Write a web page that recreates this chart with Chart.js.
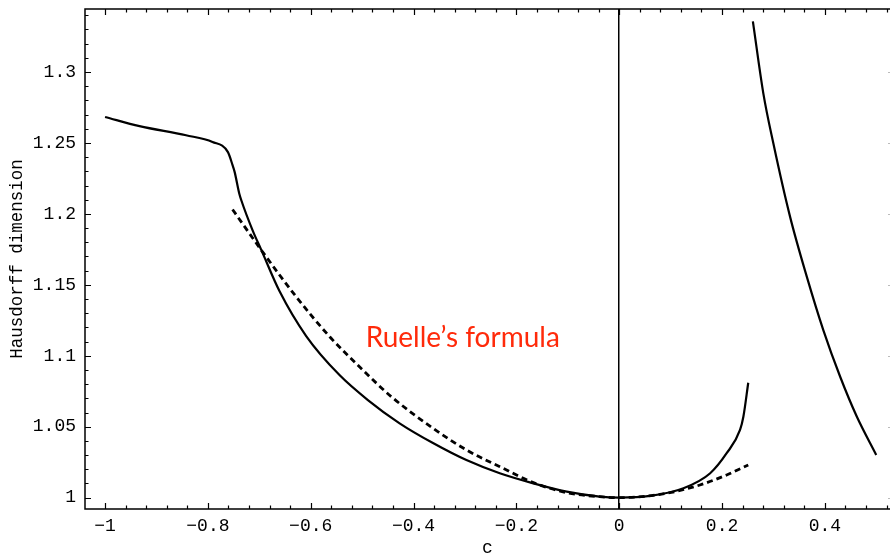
<!DOCTYPE html>
<html>
<head>
<meta charset="utf-8">
<script src="https://cdn.jsdelivr.net/npm/chart.js@4.4.1/dist/chart.umd.min.js"></script>
<style>
  body { margin: 0; background: #fff; }
  #box { width: 890px; height: 557px; position: relative; }
</style>
</head>
<body>
<div id="box"><canvas id="hausdorff"></canvas></div>
<script>
// tick labels
const xTicks = [-1, -0.8, -0.6, -0.4, -0.2, 0, 0.2, 0.4];
const yTicks = [1, 1.05, 1.1, 1.15, 1.2, 1.25, 1.3];

// measured dimension, main branch (c from -1 to 1/4)
const mainC   = [-1.0, -0.933, -0.8425, -0.791, -0.761, -0.752, -0.748, -0.739, -0.735, -0.7128, -0.6964, -0.6608, -0.6088, -0.544, -0.4888, -0.4271, -0.3622, -0.2972, -0.2323, -0.167, -0.102, -0.038, 0, 0.06, 0.125, 0.177, 0.209, 0.235, 0.2415, 0.251];
const mainDim = [1.2683, 1.2618, 1.2554, 1.2507, 1.2435, 1.2343, 1.2296, 1.2144, 1.2096, 1.1882, 1.1748, 1.1456, 1.1139, 1.0864, 1.0688, 1.0524, 1.0385, 1.0265, 1.0172, 1.0101, 1.0042, 1.0007, 1.0, 1.0012, 1.0066, 1.0172, 1.0313, 1.0477, 1.057, 1.081];

// branch right of 1/4
const rightC   = [0.26, 0.2804, 0.2999, 0.3324, 0.365, 0.397, 0.4298, 0.4623, 0.4999];
const rightDim = [1.3357, 1.2848, 1.2496, 1.1979, 1.1556, 1.1181, 1.0852, 1.057, 1.0301];

// Ruelle's formula (dashed)
const ruelleC   = [-0.752, -0.696, -0.628, -0.563, -0.4985, -0.443, -0.362, -0.297, -0.232, -0.167, -0.102, -0.038, 0, 0.092, 0.157, 0.209, 0.251];
const ruelleDim = [1.2031, 1.1744, 1.1415, 1.1134, 1.0899, 1.0711, 1.0489, 1.0336, 1.0218, 1.0106, 1.0035, 1.0007, 1.0, 1.0031, 1.0089, 1.016, 1.023];

const labelText = 'Ruelle\u2019s formula';
const labelAt = { c: -0.493, dim: 1.1063 };

function pts(xs, ys) {
    return xs.map(function(x, i) { return { x: x, y: ys[i] }; });
}

function fmt(v) {
    let s = String(parseFloat(v.toFixed(2)));
    return s.replace('-', '\u2212');
}

// frame, inward ticks and the text label
const framePlugin = {
    id: 'frame',
    afterDraw: function(chart) {
        const ctx = chart.ctx;
        const a = chart.chartArea;
        const xs = chart.scales.x, ys = chart.scales.y;
        ctx.save();
        ctx.strokeStyle = '#000';
        ctx.lineWidth = 1.5;
        ctx.beginPath();
        ctx.moveTo(a.right, a.top);
        ctx.lineTo(a.left, a.top);
        ctx.lineTo(a.left, a.bottom);
        ctx.lineTo(a.right, a.bottom);
        ctx.stroke();

        ctx.lineWidth = 1.2;
        ctx.beginPath();
        // x minor + major
        for (let k = Math.ceil(xs.min / 0.04 - 1e-6); k <= Math.floor(xs.max / 0.04 + 1e-6); k++) {
            const v = k * 0.04;
            const major = Math.abs(v / 0.2 - Math.round(v / 0.2)) < 1e-6;
            const len = major ? 6 : 3.5;
            const p = Math.round(xs.getPixelForValue(v)) + 0.5;
            ctx.moveTo(p, a.bottom); ctx.lineTo(p, a.bottom - len);
            ctx.moveTo(p, a.top); ctx.lineTo(p, a.top + len);
        }
        for (let k = Math.ceil(ys.min / 0.01 - 1e-6); k <= Math.floor(ys.max / 0.01 + 1e-6); k++) {
            const v = k * 0.01;
            const major = Math.abs(v / 0.05 - Math.round(v / 0.05)) < 1e-6;
            const len = major ? 6 : 3.5;
            const p = Math.round(ys.getPixelForValue(v)) + 0.5;
            ctx.moveTo(a.left, p); ctx.lineTo(a.left + len, p);
        }
        ctx.stroke();

        ctx.strokeStyle = '#bbb';
        ctx.lineWidth = 1;
        ctx.beginPath();
        yTicks.forEach(function(v) {
            const p = Math.round(ys.getPixelForValue(v)) + 0.5;
            ctx.moveTo(a.right, p); ctx.lineTo(a.right - 2, p);
        });
        ctx.stroke();

        ctx.fillStyle = '#ff2a0a';
        ctx.font = '28px Lato';
        ctx.textBaseline = 'alphabetic';
        ctx.textAlign = 'left';
        ctx.fillText(labelText, xs.getPixelForValue(labelAt.c), ys.getPixelForValue(labelAt.dim));
        ctx.restore();
    }
};

const monoFont = { family: '"Liberation Mono", "DejaVu Sans Mono", monospace', size: 18 };

function lineSet(xs, ys, width, dash) {
    return {
        data: pts(xs, ys),
        borderColor: '#000',
        borderWidth: width,
        borderDash: dash || [],
        cubicInterpolationMode: 'monotone',
        pointRadius: 0,
        fill: false
    };
}

new Chart(document.getElementById('hausdorff'), {
    type: 'line',
    data: {
        datasets: [
            lineSet(mainC, mainDim, 2.2),
            lineSet(rightC, rightDim, 2.2),
            lineSet(ruelleC, ruelleDim, 2.8, [6, 4])
        ]
    },
    options: {
        responsive: true,
        maintainAspectRatio: false,
        animation: false,
        layout: { padding: { top: 9, right: 0, left: 0, bottom: 0 } },
        plugins: { legend: { display: false }, tooltip: { enabled: false } },
        scales: {
            x: {
                type: 'linear',
                min: -1.039,
                max: 0.5267,
                afterBuildTicks: function(scale) { scale.ticks = xTicks.map(function(v) { return { value: v }; }); },
                afterFit: function(scale) { scale.height = 48; scale.paddingLeft = 0; scale.paddingRight = 0; },
                border: { display: false },
                grid: {
                    drawTicks: false,
                    color: function(c) { return c.tick && c.tick.value === 0 ? '#000' : 'rgba(0,0,0,0)'; },
                    lineWidth: 1.5
                },
                ticks: {
                    padding: 6,
                    color: '#000',
                    font: monoFont,
                    maxRotation: 0,
                    autoSkip: false,
                    callback: function(value) { return fmt(value); }
                },
                title: {
                    display: true,
                    text: 'c',
                    color: '#000',
                    font: { family: monoFont.family, size: 18, lineHeight: 1 },
                    padding: { top: 0, bottom: 0 }
                }
            },
            y: {
                type: 'linear',
                min: 0.992,
                max: 1.3444,
                afterBuildTicks: function(scale) { scale.ticks = yTicks.map(function(v) { return { value: v }; }); },
                afterFit: function(scale) { scale.width = 85; scale.paddingTop = 0; scale.paddingBottom = 0; },
                border: { display: false },
                grid: { drawTicks: false, display: false },
                ticks: {
                    padding: 9,
                    color: '#000',
                    font: monoFont,
                    autoSkip: false,
                    callback: function(value) { return fmt(value); }
                },
                title: {
                    display: true,
                    text: 'Hausdorff dimension',
                    color: '#000',
                    font: { family: monoFont.family, size: 17.5, lineHeight: 1 },
                    padding: { top: 9, bottom: 0 }
                }
            }
        }
    },
    plugins: [framePlugin]
});
</script>
</body>
</html>
